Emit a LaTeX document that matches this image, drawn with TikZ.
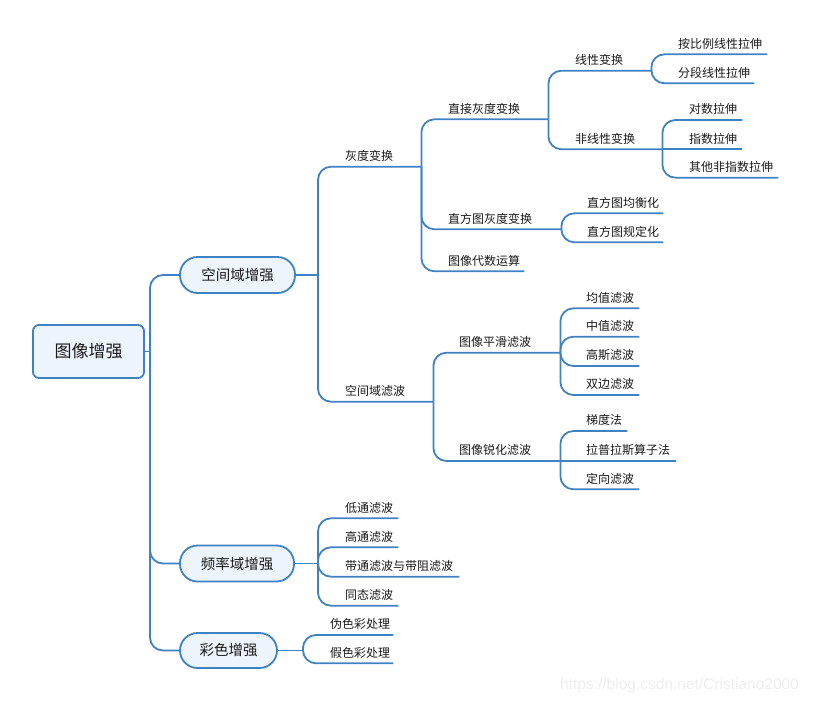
\documentclass[tikz,border=0pt]{standalone}
\usepackage{fontspec}
\setmainfont{Noto Sans CJK SC}
\newfontfamily\wmfont{Liberation Sans}
\definecolor{lineblue}{HTML}{3F82C4}
\definecolor{pillfill}{HTML}{EDF4FB}
\definecolor{txt}{HTML}{1A1A1A}
\definecolor{wm}{HTML}{EEEEEE}
\tikzset{
  conn/.style={draw=lineblue, line width=1.8pt, rounded corners=13pt},
  straightconn/.style={draw=lineblue, line width=1.8pt},
  rootbox/.style={draw=lineblue, line width=1.8pt, fill=pillfill, rounded corners=6pt,
    minimum width=111pt, minimum height=53pt, inner sep=0pt, font=\fontsize{17}{20}\selectfont, text=txt},
  pill/.style={draw=lineblue, line width=1.8pt, fill=pillfill, rounded corners=17.5pt,
    minimum height=36pt, inner sep=0pt, font=\fontsize{14.5}{17}\selectfont, text=txt},
  leaf/.style={anchor=south west, inner xsep=0pt, inner ysep=6pt, text depth=0pt,
    align=left, font=\fontsize{12}{14}\selectfont, text=txt},
}
\newcommand\leafnode[5]{\node[leaf, text width=#4pt] (#1) at (#2,#3) {#5};}
\begin{document}
\begin{tikzpicture}[x=1pt,y=-1pt]
\useasboundingbox (0,0) rectangle (813,704);
% root and level-1
\node[rootbox] (root) at (88.5,351.5) {图像增强};
\node[pill, minimum width=115pt] (p1) at (237.5,275) {空间域增强};
\node[pill, minimum width=114pt] (p2) at (237,563.5) {频率域增强};
\node[pill, minimum width=97pt, minimum height=35pt] (p3) at (228.5,650.5) {彩色增强};
\coordinate (j0) at (150,351.5);
\coordinate (j1) at (318,275);
\coordinate (j2) at (318,563.5);
\coordinate (j3) at (303,650.5);
% grey-level branch
\leafnode{g1}{345}{166.7}{76}{灰度变换}
\leafnode{g2}{448}{119.3}{100}{直接灰度变换}
\leafnode{g3}{575}{70.7}{76}{线性变换}
\leafnode{g4}{678}{54.3}{89}{按比例线性拉伸}
\leafnode{g5}{678}{83.3}{76}{分段线性拉伸}
\leafnode{g6}{575}{149.3}{87}{非线性变换}
\leafnode{g7}{689}{120}{53}{对数拉伸}
\leafnode{g8}{689}{149.3}{53}{指数拉伸}
\leafnode{g9}{689}{177.7}{89}{其他非指数拉伸}
\leafnode{g10}{448}{229.3}{113}{直方图灰度变换}
\leafnode{g11}{587}{213.3}{76}{直方图均衡化}
\leafnode{g12}{587}{242.3}{76}{直方图规定化}
\leafnode{g13}{448}{271.3}{76}{图像代数运算}
% spatial filtering branch
\leafnode{s1}{345}{401.7}{88}{空间域滤波}
\leafnode{s2}{459}{352.7}{101}{图像平滑滤波}
\leafnode{s3}{586}{308.3}{53}{均值滤波}
\leafnode{s4}{586}{336.7}{53}{中值滤波}
\leafnode{s5}{586}{366}{53}{高斯滤波}
\leafnode{s6}{586}{395}{53}{双边滤波}
\leafnode{s7}{459}{461}{101}{图像锐化滤波}
\leafnode{s8}{586}{431}{41}{梯度法}
\leafnode{s9}{586}{461}{90}{拉普拉斯算子法}
\leafnode{s10}{586}{489.3}{53}{定向滤波}
% frequency branch
\leafnode{f1}{345}{518.3}{53}{低通滤波}
\leafnode{f2}{345}{547.3}{53}{高通滤波}
\leafnode{f3}{345}{576.7}{114}{带通滤波与带阻滤波}
\leafnode{f4}{345}{605.7}{53}{同态滤波}
% colour branch
\leafnode{c1}{330}{635}{63}{伪色彩处理}
\leafnode{c2}{330}{663.3}{63}{假色彩处理}
% connectors: root
\draw[straightconn] (root.east) -- (j0);
\draw[conn] (j0) |- (p1.west);
\draw[conn] (j0) |- (p2.west);
\draw[conn] (j0) |- (p3.west);
% p1
\draw[straightconn] (p1.east) -- (j1);
\draw[conn] (j1) |- (g1.south east);
\draw[conn] (j1) |- (s1.south east);
% g1
\draw[conn] (g1.south east) |- (g2.south east);
\draw[conn] (g1.south east) |- (g10.south east);
\draw[conn] (g1.south east) |- (g13.south east);
\draw[conn] (g2.south east) |- (g3.south east);
\draw[conn] (g2.south east) |- (g6.south east);
\draw[conn] (g3.south east) |- (g4.south east);
\draw[conn] (g3.south east) |- (g5.south east);
\draw[conn] (g6.south east) |- (g7.south east);
\draw[conn] (g6.south east) -- (g8.south east);
\draw[conn] (g6.south east) |- (g9.south east);
\draw[conn] (g10.south east) |- (g11.south east);
\draw[conn] (g10.south east) |- (g12.south east);
% s1
\draw[conn] (s1.south east) |- (s2.south east);
\draw[conn] (s1.south east) |- (s7.south east);
\draw[conn] (s2.south east) |- (s3.south east);
\draw[conn] (s2.south east) |- (s4.south east);
\draw[conn] (s2.south east) |- (s5.south east);
\draw[conn] (s2.south east) |- (s6.south east);
\draw[conn] (s7.south east) |- (s8.south east);
\draw[conn] (s7.south east) -- (s9.south east);
\draw[conn] (s7.south east) |- (s10.south east);
% p2
\draw[straightconn] (p2.east) -- (j2);
\draw[conn] (j2) |- (f1.south east);
\draw[conn] (j2) |- (f2.south east);
\draw[conn] (j2) |- (f3.south east);
\draw[conn] (j2) |- (f4.south east);
% p3
\draw[straightconn] (p3.east) -- (j3);
\draw[conn] (j3) |- (c1.south east);
\draw[conn] (j3) |- (c2.south east);
% watermark
\node[anchor=west, inner sep=0pt, text=wm, font=\wmfont\fontsize{15.5}{18}\selectfont] (wmark) at (560,685) {https://blog.csdn.net/Cristiano2000};
\end{tikzpicture}
\end{document}
